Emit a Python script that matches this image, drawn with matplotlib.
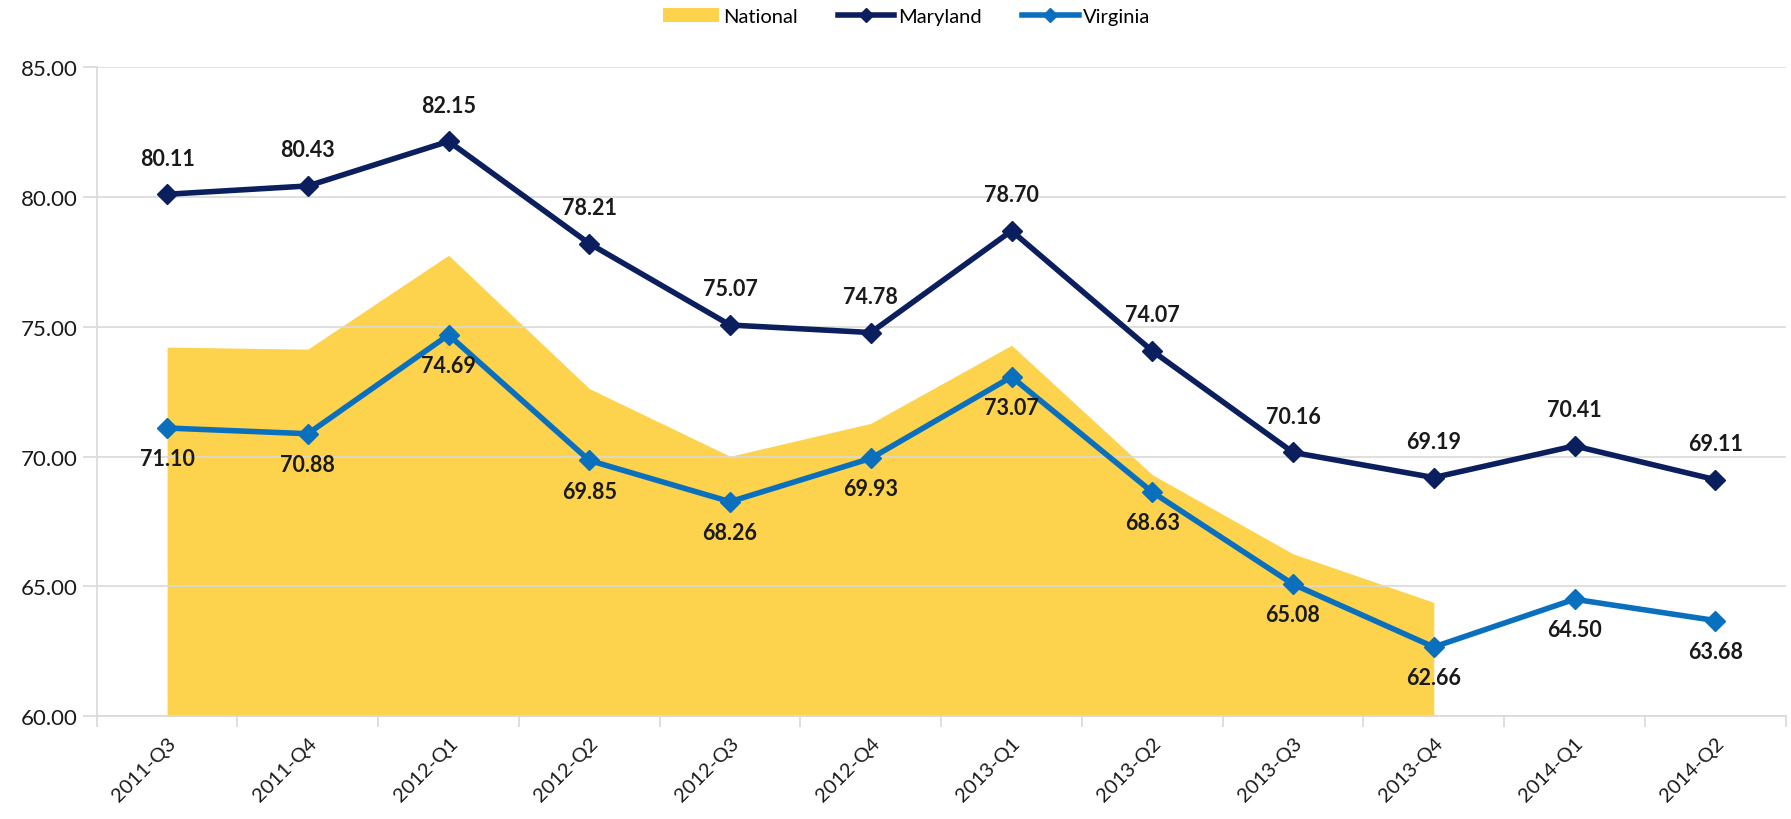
import numpy as np
import matplotlib
matplotlib.use('Agg')
import matplotlib.pyplot as plt


# ----------------------------------------------------------------

quarters = ['2011-Q3', '2011-Q4', '2012-Q1', '2012-Q2', '2012-Q3', '2012-Q4',
            '2013-Q1', '2013-Q2', '2013-Q3', '2013-Q4', '2014-Q1', '2014-Q2']

national = [74.22, 74.14, 77.76, 72.62, 70.01, 71.28,
            74.29, 69.30, 66.25, 64.38, np.nan, np.nan]
maryland = [80.11, 80.43, 82.15, 78.21, 75.07, 74.78,
            78.70, 74.07, 70.16, 69.19, 70.41, 69.11]
virginia = [71.10, 70.88, 74.69, 69.85, 68.26, 69.93,
            73.07, 68.63, 65.08, 62.66, 64.50, 63.68]

y_ticks = [60, 65, 70, 75, 80, 85]

# ----------------------------------------------------------------

c_nat = '#FDD24C'
c_md = '#0B1F5E'
c_va = '#0A70BE'
c_grid = '#D9D9D9'
c_text = '#1A1A1A'

plt.rcParams['font.family'] = ['Lato', 'DejaVu Sans']

fig = plt.figure(figsize=(17.91, 8.20), dpi=100)
ax = fig.add_axes([0.054, 0.1256, 0.943, 0.791])

x = np.arange(len(quarters))
nat = np.array(national)
ok = ~np.isnan(nat)

ax.fill_between(x[ok], y_ticks[0], nat[ok], color=c_nat, linewidth=0,
                label='National', zorder=1)
ax.plot(x, maryland, color=c_md, lw=4, marker='D', ms=10,
        label='Maryland', zorder=3)
ax.plot(x, virginia, color=c_va, lw=4, marker='D', ms=10,
        label='Virginia', zorder=3)

# data labels
for i, v in enumerate(maryland):
    ax.annotate(f'{v:.2f}', (i, v), xytext=(0, 26), textcoords='offset points',
                ha='center', va='center', fontsize=15.5, fontweight='bold',
                color=c_text, zorder=5)
for i, v in enumerate(virginia):
    ax.annotate(f'{v:.2f}', (i, v), xytext=(0, -22), textcoords='offset points',
                ha='center', va='center', fontsize=15.5, fontweight='bold',
                color=c_text, zorder=5)

# axes
ax.set_xlim(-0.5, len(quarters) - 0.5)
ax.set_ylim(y_ticks[0], y_ticks[-1])
ax.set_yticks(y_ticks)
ax.set_yticklabels([f'{t:.2f}' for t in y_ticks], fontsize=16, color=c_text)
ax.set_xticks(x)
ax.set_xticklabels(quarters, rotation=45, ha='right', rotation_mode='anchor',
                   fontsize=14.5, color=c_text)
ax.set_xticks(np.arange(-0.5, len(quarters)), minor=True)
ax.tick_params(axis='x', which='major', length=0, pad=13)
ax.tick_params(axis='x', which='minor', length=8, color=c_grid, width=1.2)
ax.tick_params(axis='y', length=10, color=c_grid, width=1.2, pad=4)

ax.yaxis.grid(True, color=c_grid, lw=1.2)
ax.set_axisbelow('line')
for s in ['top', 'right']:
    ax.spines[s].set_visible(False)
for s in ['left', 'bottom']:
    ax.spines[s].set_color(c_grid)
    ax.spines[s].set_linewidth(1.2)

fig.legend(loc='center', bbox_to_anchor=(0.506, 0.979), ncol=3, frameon=False,
           fontsize=14.5, handlelength=2.8, columnspacing=2.0, handletextpad=0.2,
           markerscale=0.75)

fig.savefig('out.png', dpi=100)
